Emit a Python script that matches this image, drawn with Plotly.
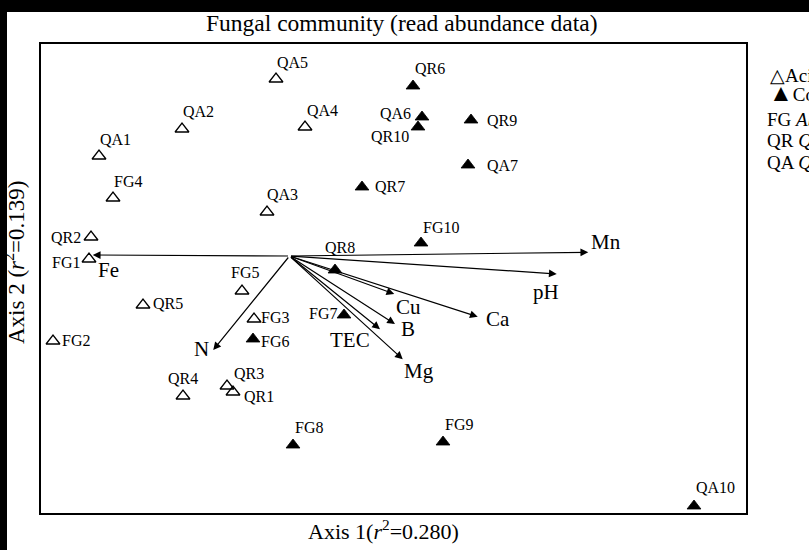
import plotly.graph_objects as go

# ---- ordination scores (axis 1, axis 2) ----
open_names = ["QA5", "QA2", "QA1", "FG4", "QA3", "QA4", "QR2", "FG1",
              "QR5", "FG2", "FG5", "FG3", "QR4", "QR3", "QR1"]
open_x = [-0.054, -0.430, -0.762, -0.706, -0.090, 0.062, -0.794, -0.802,
          -0.586, -0.946, -0.190, -0.142, -0.426, -0.250, -0.226]
open_y = [0.708, 0.508, 0.400, 0.232, 0.176, 0.516, 0.076, -0.012,
          -0.196, -0.340, -0.140, -0.252, -0.560, -0.520, -0.544]

filled_names = ["FG6", "QR6", "QA6", "QR10", "QR9", "QA7", "QR7", "FG10",
                "QR8", "FG7", "FG8", "FG9", "QA10"]
filled_x = [-0.146, 0.494, 0.530, 0.514, 0.726, 0.714, 0.290, 0.526,
            0.182, 0.218, 0.014, 0.614, 1.618]
filled_y = [-0.332, 0.680, 0.556, 0.516, 0.544, 0.364, 0.276, 0.052,
            -0.056, -0.236, -0.756, -0.744, -1.000]

# environmental vectors (joint plot)
env_names = ["Mn", "pH", "Ca", "Cu", "B", "TEC", "Mg", "Fe", "N"]
env_x = [1.195, 1.069, 0.753, 0.419, 0.422, 0.362, 0.453, -0.787, -0.305]
env_y = [0.015, -0.072, -0.243, -0.152, -0.272, -0.293, -0.413, 0.004, -0.376]

x_range = [-0.998, 1.830]
y_range = [-1.032, 0.852]

# ---- label placement (pixel offsets from the point) ----
sample_offset = {
    "QA5": (16, -17), "QA2": (16, -18), "QA1": (16, -17), "FG4": (15, -17),
    "QA3": (15, -18), "QA4": (17, -17), "QR2": (-25, 0), "FG1": (-23, 3),
    "QR5": (25, -2), "FG2": (23, -1), "FG5": (3, -19), "FG3": (21, -2),
    "QR4": (0, -18), "QR3": (22, -13), "QR1": (26, 4),
    "FG6": (22, 2), "QR6": (17, -18), "QA6": (-27, -4), "QR10": (-28, 9),
    "QR9": (31, 0), "QA7": (34, 0), "QR7": (28, -1), "FG10": (20, -16),
    "QR8": (5, -23), "FG7": (-21, -2), "FG8": (16, -18), "FG9": (16, -18),
    "QA10": (21, -19),
}
env_offset = {
    "Mn": (18, -10), "pH": (-11, 18), "Ca": (20, 2), "Cu": (14, 13),
    "B": (13, 5), "TEC": (-30, 11), "Mg": (16, 12), "Fe": (16, 15),
    "N": (-12, -1),
}

W, H = 809, 555
L, R, T, B = 40, 747, 43, 514  # plot frame in pixels


def px(xp):
    return (xp - L) / (R - L)


def py(yp):
    return (B - yp) / (B - T)


FONT = "Liberation Serif"

fig = go.Figure()

fig.add_trace(go.Scatter(
    x=open_x, y=open_y, mode="markers", name="open",
    marker=dict(symbol="triangle-up-open", size=12, color="black",
                line=dict(width=1.3, color="black")),
    hoverinfo="text", hovertext=open_names,
))
fig.add_trace(go.Scatter(
    x=filled_x, y=filled_y, mode="markers", name="filled",
    marker=dict(symbol="triangle-up", size=12, color="black",
                line=dict(width=0.8, color="black")),
    hoverinfo="text", hovertext=filled_names,
))

annotations = []

# sample labels
for names, xs, ys in ((open_names, open_x, open_y), (filled_names, filled_x, filled_y)):
    for n, xv, yv in zip(names, xs, ys):
        dx, dy = sample_offset[n]
        annotations.append(dict(
            x=xv, y=yv, xref="x", yref="y", text=n, showarrow=False,
            xanchor="center", yanchor="middle", xshift=dx, yshift=-dy,
            font=dict(family=FONT, size=16, color="black"),
        ))

# vectors from the origin, and their labels
for n, xv, yv in zip(env_names, env_x, env_y):
    annotations.append(dict(
        x=xv, y=yv, xref="x", yref="y", ax=0, ay=0, axref="x", ayref="y",
        text="", showarrow=True, arrowhead=2, arrowsize=1.3, arrowwidth=1.2,
        arrowcolor="black", standoff=0,
    ))
    dx, dy = env_offset[n]
    annotations.append(dict(
        x=xv, y=yv, xref="x", yref="y", text=n, showarrow=False,
        xanchor="center", yanchor="middle", xshift=dx, yshift=-dy,
        font=dict(family=FONT, size=21, color="black"),
    ))

# title and axis titles
annotations.append(dict(
    x=px(402), y=py(23), xref="paper", yref="paper", showarrow=False,
    text="Fungal community (read abundance data)",
    xanchor="center", yanchor="middle",
    font=dict(family=FONT, size=23.5, color="black"),
))
annotations.append(dict(
    x=px(383), y=py(530), xref="paper", yref="paper", showarrow=False,
    text="Axis 1(<i>r</i><sup>2</sup>=0.280)",
    xanchor="center", yanchor="middle",
    font=dict(family=FONT, size=22, color="black"),
))
annotations.append(dict(
    x=px(14), y=py(262), xref="paper", yref="paper", showarrow=False,
    text="Axis 2 (<i>r</i><sup>2</sup>=0.139)", textangle=-90,
    xanchor="center", yanchor="middle",
    font=dict(family=FONT, size=23, color="black"),
))

# key at the right edge
legend_lines = [
    (768, 75, "\u25b3Acidic soil"),
    (767, 93, "<span style=\"font-size:24px\">\u25b2</span>Control soil"),
    (765, 120, "FG <i>Abies</i> forest"),
    (765, 141, "QR <i>Quercus</i> forest"),
    (765, 162, "QA <i>Quercus</i> forest"),
]
for xp, yp, txt in legend_lines:
    annotations.append(dict(
        x=px(xp), y=py(yp), xref="paper", yref="paper", showarrow=False,
        text=txt, xanchor="left", yanchor="middle",
        font=dict(family=FONT, size=19, color="black"),
    ))

shapes = [
    # plot frame
    dict(type="rect", xref="paper", yref="paper", x0=0, x1=1, y0=0, y1=1,
         line=dict(color="black", width=2), fillcolor="rgba(0,0,0,0)"),
    # dark scan borders along the top and left edges
    dict(type="rect", xref="paper", yref="paper", x0=px(0), x1=px(W),
         y0=py(12), y1=py(0), line=dict(width=0), fillcolor="black", layer="above"),
    dict(type="rect", xref="paper", yref="paper", x0=px(0), x1=px(7),
         y0=py(550), y1=py(0), line=dict(width=0), fillcolor="black", layer="above"),
]

fig.update_layout(
    width=W, height=H,
    margin=dict(l=L, r=W - R, t=T, b=H - B, pad=0),
    paper_bgcolor="white", plot_bgcolor="white",
    showlegend=False,
    xaxis=dict(range=x_range, visible=False, fixedrange=True),
    yaxis=dict(range=y_range, visible=False, fixedrange=True),
    annotations=annotations,
    shapes=shapes,
    font=dict(family=FONT),
)

fig.write_html("out.html")
